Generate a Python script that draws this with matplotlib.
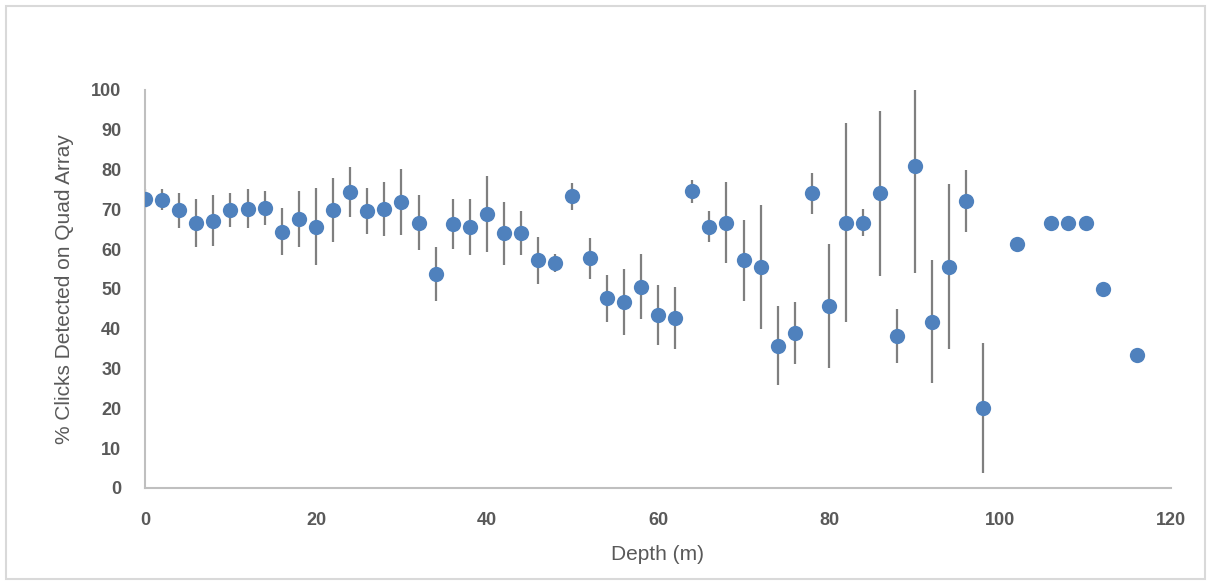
import matplotlib
matplotlib.use('Agg')
import matplotlib.pyplot as plt
from matplotlib.patches import Rectangle

plt.rcParams['font.family'] = ['Liberation Sans', 'DejaVu Sans']

# Depth (m) and % clicks detected, with error bar half-widths
depth = [0, 2, 4, 6, 8, 10, 12, 14, 16, 18, 20, 22, 24, 26, 28, 30, 32, 34, 36, 38,
         40, 42, 44, 46, 48, 50, 52, 54, 56, 58, 60, 62, 64, 66, 68, 70, 72, 74, 76, 78,
         80, 82, 84, 86, 88, 90, 92, 94, 96, 98, 102, 106, 108, 110, 112, 116]
pct = [72.7, 72.4, 69.8, 66.5, 67.2, 69.8, 70.2, 70.4, 64.4, 67.6, 65.7, 69.9, 74.3, 69.6,
       70.0, 71.9, 66.7, 53.8, 66.3, 65.6, 68.8, 64.0, 64.0, 57.2, 56.5, 73.3, 57.7, 47.7,
       46.7, 50.6, 43.4, 42.7, 74.5, 65.7, 66.7, 57.2, 55.6, 35.8, 38.9, 74.0, 45.8, 66.7,
       66.7, 74.0, 38.2, 80.9, 41.8, 55.6, 72.1, 20.1, 61.2, 66.7, 66.7, 66.7, 50.0, 33.3]
err = [2.4, 2.6, 4.4, 6.0, 6.4, 4.2, 5.0, 4.3, 5.9, 7.1, 9.6, 8.1, 6.3, 5.9, 6.8, 8.3,
       6.8, 6.7, 6.2, 7.0, 9.6, 7.9, 5.5, 5.9, 2.3, 3.4, 5.1, 5.9, 8.3, 8.2, 7.5, 7.9,
       2.8, 3.8, 10.2, 10.1, 15.6, 10.0, 7.8, 5.2, 15.6, 24.9, 3.5, 20.8, 6.7, 27.0,
       15.5, 20.7, 7.8, 16.3, 0, 0, 0, 0, 0, 0]

fig = plt.figure(figsize=(12.12, 5.84), dpi=100)
fig.patch.set_facecolor('white')
ax = fig.add_axes([0.1196, 0.1644, 0.8466, 0.6815])

ax.errorbar(depth, pct, yerr=err, fmt='none', ecolor='#7f7f7f', elinewidth=1.6,
            capsize=0, zorder=2)
ax.plot(depth, pct, 'o', color='#4f81bd', markersize=11, markeredgewidth=0, zorder=3)

ax.set_xlim(0, 120)
ax.set_ylim(0, 100)
ax.set_xticks(range(0, 121, 20))
ax.set_yticks(range(0, 101, 10))
ax.tick_params(length=0, labelsize=13, labelcolor='#595959')
ax.tick_params(axis='y', pad=17)
ax.tick_params(axis='x', pad=17)
for lbl in ax.get_xticklabels() + ax.get_yticklabels():
    lbl.set_fontweight('bold')

for s in ['top', 'right']:
    ax.spines[s].set_visible(False)
for s in ['left', 'bottom']:
    ax.spines[s].set_color('#bfbfbf')
    ax.spines[s].set_linewidth(1.5)

ax.set_xlabel('Depth (m)', fontsize=15, color='#595959', labelpad=12)
ax.set_ylabel('% Clicks Detected on Quad Array', fontsize=15, color='#595959', labelpad=12)

# light chart-area border
fig.patches.append(Rectangle((6 / 1212, 5 / 584), 1199 / 1212, 573 / 584,
                             transform=fig.transFigure, fill=False,
                             edgecolor='#d9d9d9', linewidth=1.5))

fig.savefig('out.png', dpi=100, facecolor='white')
